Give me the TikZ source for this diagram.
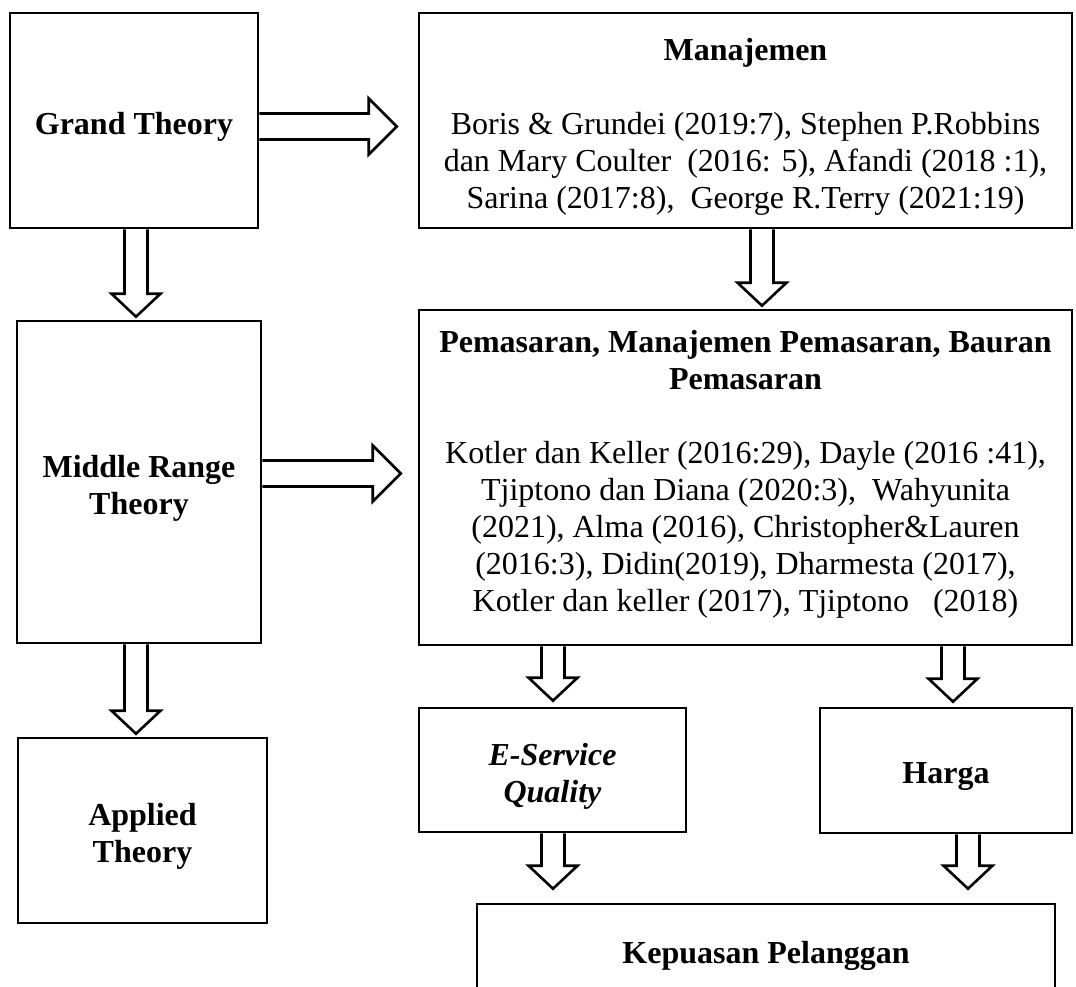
\documentclass[tikz,border=0pt]{standalone}
\usepackage{fontspec}
\setmainfont{Liberation Serif}
\usetikzlibrary{calc}

% taller first line: pushes box text down a little
\newcommand{\lowstrut}{\rule{0pt}{34pt}}

% hollow block arrows between boxes
\newcommand{\blockdown}[4]{% #1 x, #2 from, #3 to, #4 gap above target
    \coordinate (s) at (#1,0 |- #2.south);
    \coordinate (t) at ($(#1,0 |- #3.north)+(0,-#4)$);
    \draw[hollow] ($(s)+(-11.5,0)$) -- ($(t)+(-11.5,-23)$) -- ($(t)+(-24.5,-23)$)
        -- (t) -- ($(t)+(24.5,-23)$) -- ($(t)+(11.5,-23)$) -- ($(s)+(11.5,0)$);
}
\newcommand{\blockright}[4]{% #1 y, #2 from, #3 to, #4 gap before target
    \coordinate (s) at (#2.east |- 0,#1);
    \coordinate (t) at ($(#3.west |- 0,#1)+(-#4,0)$);
    \draw[hollow] ($(s)+(0,-13)$) -- ($(t)+(-28,-13)$) -- ($(t)+(-28,-28)$)
        -- (t) -- ($(t)+(-28,28)$) -- ($(t)+(-28,13)$) -- ($(s)+(0,13)$);
}

\begin{document}
\begin{tikzpicture}[
        x=1pt, y=-1pt,
        box/.style={
            rectangle, draw=black, line width=2.6pt,
            align=center, inner sep=0pt,
            font=\fontsize{32}{37}\selectfont
        },
        hollow/.style={draw=black, line width=2.6pt, line join=miter},
    ]
    \useasboundingbox (0,0) rectangle (1076,986);

    % ── Left column: theories ──
    \node[box, minimum width=248pt, minimum height=215pt] (grand) at (134,120.5)
        {\lowstrut\textbf{Grand Theory}};
    \node[box, minimum width=244pt, minimum height=322pt] (middle) at (139,482)
        {\lowstrut\textbf{Middle Range}\\\textbf{Theory}};
    \node[box, minimum width=249pt, minimum height=185pt] (applied) at (142.5,830.5)
        {\lowstrut\textbf{Applied}\\\textbf{Theory}};

    % ── Right column: Manajemen ──
    \node[box, minimum width=653pt, minimum height=215pt] (manaj) at (745.5,120.5)
        {\lowstrut\textbf{Manajemen}\\[37pt]
         Boris \& Grundei (2019:7), Stephen P.Robbins\\
         dan Mary Coulter~ (2016: 5), Afandi (2018 :1),\\
         Sarina (2017:8), ~George R.Terry (2021:19)};

    % ── Right column: Pemasaran ──
    \node[box, minimum width=653pt, minimum height=335pt] (pemasaran) at (745.5,477.5)
        {\textbf{Pemasaran, Manajemen Pemasaran, Bauran}\\
         \textbf{Pemasaran}\\[37pt]
         Kotler dan Keller (2016:29), Dayle (2016 :41),\\
         Tjiptono dan Diana (2020:3), ~Wahyunita\\
         (2021), Alma (2016), Christopher\&Lauren\\
         (2016:3), Didin(2019), Dharmesta (2017),\\
         Kotler dan keller (2017), Tjiptono ~~(2018)\rule[-14pt]{0pt}{14pt}};

    % ── Variables ──
    \node[box, minimum width=267pt, minimum height=124pt] (eserv) at (552.5,770)
        {\lowstrut\textbf{\textit{E-Service}}\\\textbf{\textit{Quality}}};
    \node[box, minimum width=252pt, minimum height=125pt] (harga) at (946,770.5)
        {\lowstrut\textbf{Harga}};
    \node[box, minimum width=578pt, minimum height=92pt] (kepuasan) at (766,950)
        {\lowstrut\textbf{Kepuasan Pelanggan}};

    % ── Arrows ──
    \blockright{126.5}{grand}{manaj}{21}
    \blockright{473.5}{middle}{pemasaran}{17}
    \blockdown{136}{grand}{middle}{3}
    \blockdown{136}{middle}{applied}{3}
    \blockdown{762}{manaj}{pemasaran}{3}
    \blockdown{553}{pemasaran}{eserv}{6}
    \blockdown{953}{pemasaran}{harga}{5}
    \blockdown{553}{eserv}{kepuasan}{14}
    \blockdown{968}{harga}{kepuasan}{14}

\end{tikzpicture}
\end{document}
